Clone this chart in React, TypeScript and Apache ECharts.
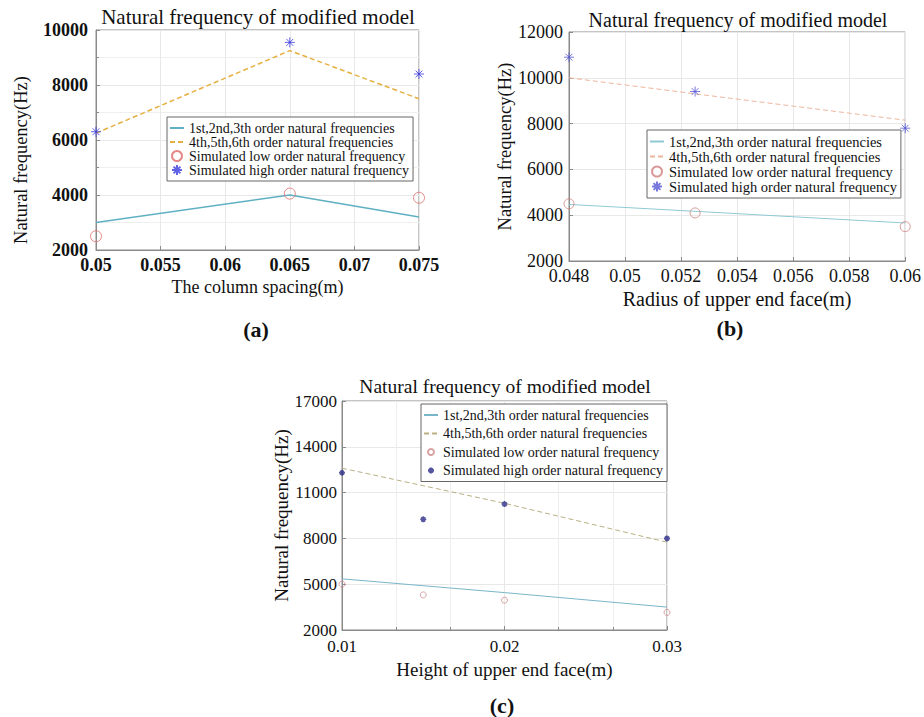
import React, { useEffect, useRef } from "react";
import * as echarts from "echarts";

// ---------- data ----------
const seriesNames = [
  "1st,2nd,3th order natural frequencies",
  "4th,5th,6th order natural frequencies",
  "Simulated low order natural frequency",
  "Simulated high order natural frequency",
];
const titleText = "Natural frequency of modified model";
const yName = "Natural frequency(Hz)";
const xNameA = "The column spacing(m)";
const xNameB = "Radius of upper end face(m)";
const xNameC = "Height of upper end face(m)";

// Panel (a)
const xA = [0.05, 0.065, 0.075];
const lowLineA = [3000, 4000, 3200];
const highLineA = [6250, 9250, 7500];
const lowSimA = [2500, 4050, 3900];
const highSimA = [6300, 9550, 8400];

// Panel (b)
const xB = [0.048, 0.0525, 0.06];
const lowLineB = [4470, 4170, 3660];
const highLineB = [10000, 9300, 8150];
const lowSimB = [4500, 4100, 3500];
const highSimB = [10900, 9400, 7800];

// Panel (c)
const xC = [0.01, 0.015, 0.02, 0.03];
const lowLineC = [5350, 4900, 4450, 3500];
const highLineC = [12600, 11450, 10300, 7750];
const lowSimC = [5000, 4300, 3950, 3150];
const highSimC = [12300, 9250, 10250, 8000];

const zip = (xs: number[], ys: number[]) => xs.map((x, i) => [x, ys[i]]);
const STAR = "path://M5,0L5,10M0,5L10,5M1.6,1.6L8.4,8.4M1.6,8.4L8.4,1.6";
const FONT = "Liberation Serif";
const fmtX = (v: number) => String(Number(v.toFixed(4)));
const fmtY = (v: number) => String(Math.round(v));

interface PanelStyle {
  suffix: string;
  grid: number;
  lowColor: string;
  highColor: string;
  circColor: string;
  starColor: string;
  lineW: number;
  circSize: number;
  starSize: number;
  starW: number;
}

function panelSeries(
  p: PanelStyle,
  xs: number[],
  lowL: number[],
  highL: number[],
  lowS: number[],
  highS: number[]
) {
  return [
    {
      type: "line",
      name: seriesNames[0] + p.suffix,
      xAxisIndex: p.grid,
      yAxisIndex: p.grid,
      data: zip(xs, lowL),
      symbol: "none",
      lineStyle: { color: p.lowColor, width: p.lineW },
      itemStyle: { color: p.lowColor },
      z: 2,
    },
    {
      type: "line",
      name: seriesNames[1] + p.suffix,
      xAxisIndex: p.grid,
      yAxisIndex: p.grid,
      data: zip(xs, highL),
      symbol: "none",
      lineStyle: { color: p.highColor, width: p.lineW, type: [5, 3] },
      itemStyle: { color: p.highColor },
      z: 2,
    },
    {
      type: "scatter",
      name: seriesNames[2] + p.suffix,
      xAxisIndex: p.grid,
      yAxisIndex: p.grid,
      data: zip(xs, lowS),
      symbol: "circle",
      symbolSize: p.circSize,
      itemStyle: { color: "rgba(255,255,255,0)", borderColor: p.circColor, borderWidth: 1 },
      z: 3,
    },
    {
      type: "scatter",
      name: seriesNames[3] + p.suffix,
      xAxisIndex: p.grid,
      yAxisIndex: p.grid,
      data: zip(xs, highS),
      symbol: STAR,
      symbolSize: p.starSize,
      itemStyle: { color: "rgba(0,0,0,0)", borderColor: p.starColor, borderWidth: p.starW },
      z: 3,
    },
  ];
}

const pA: PanelStyle = {
  suffix: "",
  grid: 0,
  lowColor: "#5fb0c2",
  highColor: "#e6b040",
  circColor: "#e06a6a",
  starColor: "#3a3ae0",
  lineW: 1.5,
  circSize: 11,
  starSize: 10,
  starW: 1,
};
const pB: PanelStyle = {
  suffix: " ",
  grid: 1,
  lowColor: "#8fcad4",
  highColor: "#eeb49c",
  circColor: "#cf7f7f",
  starColor: "#5555d5",
  lineW: 1,
  circSize: 10,
  starSize: 10,
  starW: 1,
};
const pC: PanelStyle = {
  suffix: "  ",
  grid: 2,
  lowColor: "#79b6c9",
  highColor: "#b9b083",
  circColor: "#d08c8c",
  starColor: "#2c2c86",
  lineW: 1,
  circSize: 6,
  starSize: 6,
  starW: 1.6,
};

function makeLegend(
  p: PanelStyle,
  left: number,
  top: number,
  fontSize: number,
  lineHeight: number,
  gap: number,
  iconH: number
) {
  return {
    orient: "vertical",
    left,
    top,
    data: seriesNames.map((n, i) =>
      i < 2
        ? { name: n + p.suffix, icon: "inherit", itemStyle: { color: "rgba(0,0,0,0)", opacity: 0, borderWidth: 0 } }
        : { name: n + p.suffix }
    ),
    formatter: (name: string) => name.trim(),
    itemWidth: 14,
    itemHeight: iconH,
    itemGap: gap,
    padding: [4, 4, 4, 2],
    borderColor: "#666",
    borderWidth: 1,
    backgroundColor: "#fff",
    selectedMode: false,
    textStyle: { fontFamily: FONT, fontSize, color: "#111", lineHeight },
  };
}

function makeX(
  grid: number,
  min: number,
  max: number,
  interval: number,
  name: string,
  nameSize: number,
  nameGap: number,
  labelSize: number,
  bold: boolean,
  margin: number,
  minor: boolean
) {
  return {
    type: "value",
    gridIndex: grid,
    min,
    max,
    interval,
    name,
    nameLocation: "middle",
    nameGap,
    nameTextStyle: { fontFamily: FONT, fontSize: nameSize, color: "#111" },
    axisLine: { show: true, lineStyle: { color: "#8a8a8a" } },
    axisTick: { show: true, inside: true, length: 4, lineStyle: { color: "#8a8a8a" } },
    axisLabel: {
      fontFamily: FONT,
      fontSize: labelSize,
      fontWeight: bold ? "bold" : "normal",
      color: "#111",
      margin,
      formatter: fmtX,
    },
    splitLine: { show: true, lineStyle: { color: "#e8e8e8" } },
    minorTick: { show: minor, splitNumber: 3, length: 3, lineStyle: { color: "#8a8a8a" } },
    minorSplitLine: { show: minor, lineStyle: { color: "#eeeeee" } },
  };
}

function makeY(
  grid: number,
  min: number,
  max: number,
  interval: number,
  nameSize: number,
  nameGap: number,
  namePadRight: number,
  labelSize: number,
  bold: boolean,
  margin: number,
  minor: boolean
) {
  return {
    type: "value",
    gridIndex: grid,
    min,
    max,
    interval,
    name: yName,
    nameLocation: "middle",
    nameGap,
    nameTextStyle: {
      fontFamily: FONT,
      fontSize: nameSize,
      color: "#111",
      padding: [0, namePadRight, 0, 0],
    },
    axisLine: { show: true, lineStyle: { color: "#8a8a8a" } },
    axisTick: { show: true, inside: true, length: 4, lineStyle: { color: "#8a8a8a" } },
    axisLabel: {
      fontFamily: FONT,
      fontSize: labelSize,
      fontWeight: bold ? "bold" : "normal",
      color: "#111",
      margin,
      formatter: fmtY,
    },
    splitLine: { show: true, lineStyle: { color: "#e8e8e8" } },
    minorTick: { show: minor, splitNumber: 2, length: 3, lineStyle: { color: "#8a8a8a" } },
    minorSplitLine: { show: minor, lineStyle: { color: "#efefef" } },
  };
}

const txt = (x: number, y: number, text: string, fontSize: number, bold = false) => ({
  type: "text",
  x,
  y,
  style: {
    text,
    fontFamily: FONT,
    fontSize,
    fontWeight: bold ? "bold" : "normal",
    fill: "#111",
    align: "center",
    verticalAlign: "middle",
  },
});

export default function App() {
  const ref = useRef<HTMLDivElement>(null);
  useEffect(() => {
    if (!ref.current) return;
    const chart = echarts.init(ref.current, undefined, { renderer: "svg" });
    const option = {
      animation: false,
      backgroundColor: "#fff",
      grid: [
        { left: 96, top: 30, width: 323, height: 220, show: true, borderColor: "#8a8a8a", borderWidth: 1 },
        { left: 569, top: 32, width: 338, height: 229, show: true, borderColor: "#8a8a8a", borderWidth: 1 },
        { left: 342, top: 401, width: 325, height: 229, show: true, borderColor: "#8a8a8a", borderWidth: 1 },
      ],
      xAxis: [
        makeX(0, 0.05, 0.075, 0.005, xNameA, 18, 28, 18, true, 6, false),
        makeX(1, 0.048, 0.06, 0.002, xNameB, 20, 28, 18, false, 6, false),
        makeX(2, 0.01, 0.03, 0.01, xNameC, 19, 30, 17, false, 8, true),
      ],
      yAxis: [
        makeY(0, 2000, 10000, 2000, 18.5, 66, 40, 18, true, 8, true),
        makeY(1, 2000, 12000, 2000, 18.5, 54, 0, 18, false, 6, false),
        makeY(2, 2000, 17000, 3000, 19, 50, 0, 17, false, 5, false),
      ],
      legend: [
        makeLegend(pA, 167, 117, 14, 14, 0, 10),
        makeLegend(pB, 647, 130, 14.5, 15, 0, 10),
        makeLegend(pC, 421, 404, 14, 14, 4.5, 6),
      ],
      graphic: [
        txt(258, 17, titleText, 21),
        txt(738, 20, titleText, 20),
        txt(505, 386, titleText, 19.5),
        txt(256, 329, "(a)", 22, true),
        txt(730, 328, "(b)", 22, true),
        txt(502, 705, "(c)", 22, true),
      ],
      series: [
        ...panelSeries(pA, xA, lowLineA, highLineA, lowSimA, highSimA),
        ...panelSeries(pB, xB, lowLineB, highLineB, lowSimB, highSimB),
        ...panelSeries(pC, xC, lowLineC, highLineC, lowSimC, highSimC),
      ],
    };
    chart.setOption(option as any);
    return () => chart.dispose();
  }, []);
  return (
    <div
      ref={ref}
      style={{ position: "fixed", left: 0, top: 0, width: 924, height: 717, background: "#fff" }}
    />
  );
}
